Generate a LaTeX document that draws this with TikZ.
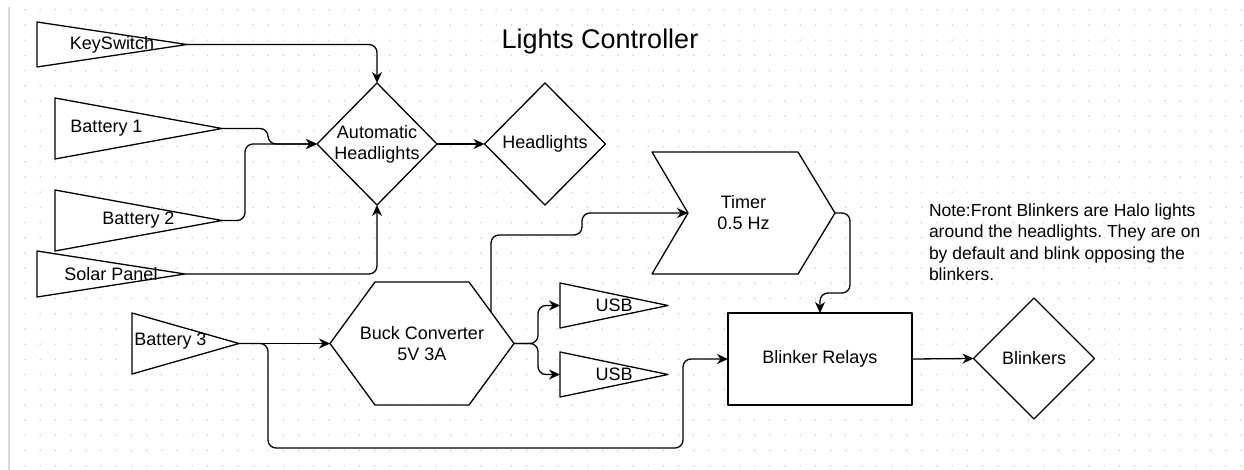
\documentclass[tikz,border=0pt]{standalone}
\usepackage{fontspec}
\setmainfont{Liberation Sans}
\usetikzlibrary{arrows.meta,calc,backgrounds}

\begin{document}
\begin{tikzpicture}[x=1pt,y=-1pt,line width=1.3pt,line join=round,
    every node/.style={font=\fontsize{18}{21}\selectfont,inner sep=0pt,outer sep=0pt,align=center},
    blk/.style n args={2}{minimum width=#1,minimum height=#2},
    flow/.style={draw,rounded corners=8pt,-{Stealth[length=11pt,width=10pt,inset=3.5pt]}},
    shp/.style={draw,fill=white,line width=1.3pt,line join=round}]
  \useasboundingbox (0,0) rectangle (1244,470);

  % inputs (drawn as triangles below)
  \node[blk={150}{45}] (key) at (112,44.5) {KeySwitch};
  \node[blk={167}{61},label={[xshift=-32pt]center:Battery 1}] (bat1) at (138.5,128.5) {};
  \node[blk={167}{61}] (bat2) at (138.5,220.5) {Battery 2};
  \node[blk={148}{46}] (solar) at (111,274) {Solar Panel};
  \node[blk={107}{61},label={[xshift=-15pt,yshift=2pt]center:Battery 3}] (bat3) at (185.5,343.5) {};
  \node[blk={108}{45}] (usb1) at (614,305.5) {USB};
  \node[blk={108}{45}] (usb2) at (614,374.5) {USB};

  % blocks
  \node[blk={120}{122}] (ah) at (377,144) {Automatic\\Headlights};
  \node[blk={121}{122}] (hl) at (545,144) {Headlights};
  \node[blk={184}{123}] (buck) at (422,343.5) {Buck Converter\\5V 3A};
  \node[blk={183}{122}] (timer) at (743.5,213) {Timer\\0.5 Hz};
  \node[blk={184}{92}] (relays) at (820,359) {Blinker Relays};
  \node[blk={121}{121}] (blink) at (1034,358.5) {Blinkers};

  \node[font=\fontsize{27}{32}\selectfont] (title) at (600,42) {Lights Controller};
  \node[anchor=north west,align=left,font=\fontsize{17.5}{21.3}\selectfont\frenchspacing] (note) at (929,204)
    {Note:Front Blinkers are Halo lights\\around the headlights. They are on\\by default and blink opposing the\\blinkers.};

  \begin{scope}[on background layer]
    % dotted grid and page edge
    \foreach \i in {0,...,80}
      \foreach \j in {0,...,30}
        \fill[black!22] (25+15.2*\i,9.8+15.2*\j) circle (0.8pt);
    \draw[black!15,line width=2pt] (8.5,7) -- (8.5,470);
    % shapes
    \foreach \n in {key,bat1,bat2,solar,bat3,usb1,usb2}
      \draw[shp] (\n.north west) -- (\n.east) -- (\n.south west) -- cycle;
    \foreach \n in {ah,hl,blink}
      \draw[shp] (\n.north) -- (\n.east) -- (\n.south) -- (\n.west) -- cycle;
    \draw[shp] (buck.west) -- ([xshift=45pt]buck.north west) -- ([xshift=-45pt]buck.north east)
      -- (buck.east) -- ([xshift=-45pt]buck.south east) -- ([xshift=45pt]buck.south west) -- cycle;
    \draw[shp] (timer.north west) -- ([xshift=-37pt]timer.north east) -- (timer.east)
      -- ([xshift=-37pt]timer.south east) -- (timer.south west) -- ([xshift=36pt]timer.west) -- cycle;
    \draw[shp] (relays.north west) rectangle (relays.south east);
  \end{scope}

  \coordinate (bk) at ($([xshift=-45pt]buck.north east)!0.49!(buck.east)$);

  % connectors
  \draw[flow] (key.east) -| (ah.north);
  \draw[flow] (bat1.east) -- (268,128.5) |- (ah.west);
  \draw[flow] (bat2.east) -- (245,220.5) |- (ah.west);
  \draw[flow] (solar.east) -| (ah.south);
  \draw[flow] (ah.east) -- (hl.west);
  \draw[flow] (bk) |- (582,235) |- ([xshift=36pt]timer.west);
  \draw[flow] (buck.east) -- (538,343.5) |- (usb1.west);
  \draw[flow] (buck.east) -- (538,343.5) |- (usb2.west);
  \draw[flow] (bat3.east) -- (buck.west);
  \draw[flow] (bat3.east) -- (268,343.5) |- (683,448) |- (relays.west);
  \draw[flow] (timer.east) -| (850,293) -| (relays.north);
  \draw[flow] (relays.east) -- (blink.west);
\end{tikzpicture}
\end{document}
